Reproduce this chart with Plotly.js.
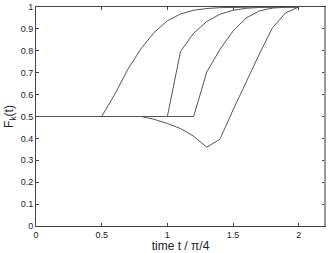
<!DOCTYPE html>
<html>
<head>
<meta charset="utf-8">
<script src="https://cdn.plot.ly/plotly-3.0.1.min.js"></script>
<style>html,body{margin:0;padding:0;background:#fff;}#chart{width:328px;height:253px;}</style>
</head>
<body>
<div id="chart"></div>
<script>
const time = [0,0.1,0.2,0.3,0.4,0.5,0.6,0.7,0.8,0.9,1.0,1.1,1.2,1.3,1.4,1.5,1.6,1.7,1.8,1.9,2.0];
const curveA = [0.5,0.5,0.5,0.5,0.5,0.5,0.602,0.716,0.81,0.884,0.937,0.968,0.985,0.993,0.997,0.999,1,1,1,1,1];
const curveB = [0.5,0.5,0.5,0.5,0.5,0.5,0.5,0.5,0.5,0.5,0.5,0.797,0.88,0.934,0.967,0.985,0.994,0.998,1,1,1];
const curveC = [0.5,0.5,0.5,0.5,0.5,0.5,0.5,0.5,0.5,0.5,0.5,0.5,0.5,0.703,0.806,0.89,0.95,0.982,0.995,0.999,1];
const curveD = [0.5,0.5,0.5,0.5,0.5,0.5,0.5,0.5,0.5,0.487,0.468,0.445,0.41,0.36,0.396,0.53,0.66,0.785,0.905,0.973,1];
const xTicks = [0,0.5,1,1.5,2];
const xTickLabels = ['0','0.5','1','1.5','2'];
const yTicks = [0,0.1,0.2,0.3,0.4,0.5,0.6,0.7,0.8,0.9,1];
const yTickLabels = ['0','0.1','0.2','0.3','0.4','0.5','0.6','0.7','0.8','0.9','1'];

const lineStyle = {color:'#555', width:1};
const traces = [curveA, curveB, curveC, curveD].map(v => ({
  x: time, y: v, type:'scatter', mode:'lines', line: lineStyle, hoverinfo:'skip'
}));

const font = {family:'Liberation Sans, Arial, sans-serif', color:'#222'};
const layout = {
  width:328, height:253,
  margin:{l:36, r:3, t:7, b:27},
  paper_bgcolor:'#fff', plot_bgcolor:'#fff',
  showlegend:false,
  font: font,
  xaxis:{
    range:[0,2.2], tickvals:xTicks, ticktext:xTickLabels,
    ticks:'inside', ticklen:3, tickcolor:'#444', mirror:'ticks',
    showline:true, linecolor:'#444', linewidth:1, showgrid:false, zeroline:false,
    tickfont:{size:9, family:font.family, color:'#222'},
    title:{text:'time t / π/4', font:{size:12, family:font.family, color:'#222'}, standoff:2}
  },
  yaxis:{
    range:[0,1], tickvals:yTicks, ticktext:yTickLabels,
    ticks:'inside', ticklen:3, tickcolor:'#444', mirror:'ticks',
    showline:true, linecolor:'#444', linewidth:1, showgrid:false, zeroline:false,
    tickfont:{size:9, family:font.family, color:'#222'},
    title:{text:'F<sub>k</sub>(t)', font:{size:12, family:font.family, color:'#222'}, standoff:4}
  },
  shapes:[{type:'line', xref:'paper', yref:'paper', x0:1, x1:1, y0:0, y1:1,
           line:{color:'#999', width:2}}]
};
Plotly.newPlot('chart', traces, layout, {staticPlot:true, displayModeBar:false});
</script>
</body>
</html>
